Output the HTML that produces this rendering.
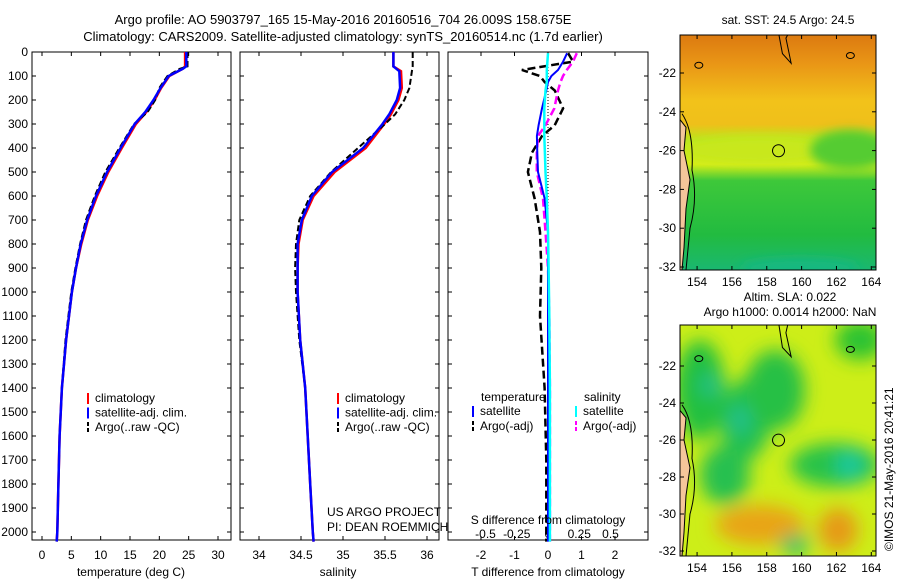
<!DOCTYPE html>
<html><head><meta charset="utf-8"><style>
body{margin:0;background:#fff;}
svg{display:block;font-family:"Liberation Sans",sans-serif;font-size:12px;}
</style></head><body>
<svg id="fig" width="900" height="580" viewBox="0 0 900 580">
<defs>
<filter id="bl" x="-50%" y="-50%" width="200%" height="200%"><feGaussianBlur stdDeviation="9"/></filter>
<filter id="bl2" x="-50%" y="-50%" width="200%" height="200%"><feGaussianBlur stdDeviation="5"/></filter>
<clipPath id="c1"><rect x="680" y="35" width="196" height="235"/></clipPath>
<clipPath id="c2"><rect x="680" y="325" width="196" height="231"/></clipPath>
<linearGradient id="g1" x1="0" y1="0" x2="0" y2="1">
<stop offset="0" stop-color="#dc7a10"/><stop offset="0.12" stop-color="#e99516"/><stop offset="0.28" stop-color="#f2c21a"/>
<stop offset="0.38" stop-color="#efc01a"/><stop offset="0.45" stop-color="#b8e61e"/><stop offset="0.55" stop-color="#d6ee18"/>
<stop offset="0.62" stop-color="#3ec83a"/><stop offset="0.85" stop-color="#22bb40"/><stop offset="1" stop-color="#1ab870"/>
</linearGradient>
</defs>
<text x="343" y="24" text-anchor="middle" font-size="13">Argo profile: AO 5903797_165 15-May-2016 20160516_704 26.009S 158.675E</text>
<text x="343" y="41" text-anchor="middle" font-size="13">Climatology: CARS2009. Satellite-adjusted climatology: synTS_20160514.nc (1.7d earlier)</text>
<g id="plots"></g>
<text x="788" y="24" text-anchor="middle">sat. SST: 24.5 Argo: 24.5</text>
<text x="790" y="301" text-anchor="middle">Altim. SLA: 0.022</text>
<text x="790" y="316" text-anchor="middle">Argo h1000: 0.0014 h2000: NaN</text>
<text transform="translate(893,551) rotate(-90)">©IMOS 21-May-2016 20:41:21</text>
<g clip-path="url(#c1)">
<rect x="680" y="35" width="196" height="235" fill="url(#g1)"/>
<ellipse cx="760" cy="150" rx="80" ry="14" fill="#c8e81c" filter="url(#bl2)"/>
<ellipse cx="850" cy="150" rx="40" ry="20" fill="#55cc30" filter="url(#bl2)"/>
<ellipse cx="800" cy="268" rx="60" ry="10" fill="#18b880" filter="url(#bl2)"/>
</g>
<g clip-path="url(#c2)">
<rect x="680" y="325" width="196" height="231" fill="#cdee18"/>
<g filter="url(#bl)">
<ellipse cx="700" cy="390" rx="25" ry="50" fill="#22c040"/>
<ellipse cx="745" cy="420" rx="25" ry="40" fill="#22c050"/>
<ellipse cx="775" cy="390" rx="30" ry="40" fill="#25c045"/>
<ellipse cx="860" cy="340" rx="25" ry="20" fill="#2ac232"/>
<ellipse cx="835" cy="465" rx="45" ry="22" fill="#25c248"/>
<ellipse cx="850" cy="465" rx="14" ry="14" fill="#18c8a0"/>
<ellipse cx="740" cy="420" rx="10" ry="14" fill="#20c090"/>
<ellipse cx="710" cy="385" rx="10" ry="12" fill="#20c088"/>
<ellipse cx="725" cy="475" rx="25" ry="30" fill="#25c050"/>
<ellipse cx="760" cy="525" rx="45" ry="20" fill="#e9a418"/>
<ellipse cx="838" cy="530" rx="20" ry="22" fill="#e69a16"/>
<ellipse cx="795" cy="545" rx="15" ry="10" fill="#22c070"/>
</g>
</g>
<g id="maps"></g>
</svg>
<script>
// ---- data ----
const depthT=[0,60,70,100,150,200,250,300,400,500,600,700,800,900,1000,1200,1400,1600,1800,2000,2040];
const tempClim=[24.4,24.4,24.0,21.7,20.3,19.2,17.8,16.0,13.6,11.3,9.4,7.8,6.7,5.8,5.1,4.1,3.4,3.0,2.8,2.6,2.5];
const tempSat=[24.6,24.6,24.0,21.6,20.2,19.0,17.6,15.8,13.4,11.1,9.2,7.7,6.6,5.8,5.1,4.1,3.4,3.0,2.8,2.6,2.5];
const tempArgo=[24.8,24.8,23.5,21.4,20.0,19.3,18.0,15.7,13.2,10.8,9.0,7.5,6.5,5.7,5.0,4.0,3.4,3.0,2.8,2.6,2.5];
const depthS=[0,60,80,150,200,260,300,400,500,600,700,800,900,1000,1200,1400,1600,1800,2000,2040];
const salClim=[35.6,35.6,35.69,35.70,35.66,35.57,35.49,35.27,34.90,34.65,34.52,34.47,34.46,34.46,34.49,34.55,34.58,34.61,34.64,34.65];
const salSat=[35.6,35.6,35.67,35.68,35.64,35.55,35.47,35.24,34.87,34.63,34.51,34.46,34.46,34.46,34.49,34.55,34.58,34.61,34.64,34.65];
const salArgo=[35.83,35.83,35.82,35.79,35.73,35.62,35.50,35.18,34.86,34.61,34.48,34.44,34.43,34.44,34.48,34.55,34.58,34.61,34.64,34.65];
const depthD=[5,40,75,100,125,160,235,305,350,420,500,610,750,900,1100,1400,1700,2040];
const tdiffSat=[0.57,0.45,0.3,0.1,0.0,-0.05,-0.18,-0.28,-0.33,-0.32,-0.3,-0.1,0.0,0.0,0.0,0.0,0.0,0.0];
const tdiffArgo=[0.6,0.75,-0.78,-0.24,-0.1,0.2,0.45,0.2,-0.18,-0.48,-0.6,-0.4,-0.24,-0.2,-0.24,-0.1,-0.05,-0.05];
const sdiffSat=[0.0,-0.005,-0.01,-0.01,-0.01,-0.02,-0.03,-0.03,-0.03,-0.025,-0.02,-0.01,0.0,0.005,0.01,0.015,0.015,0.015];
const sdiffArgo=[0.23,0.2,0.15,0.12,0.1,0.08,0.05,-0.02,-0.08,-0.09,-0.09,-0.04,-0.02,0.0,0.01,0.015,0.015,0.015];
const depthTicks=[0,100,200,300,400,500,600,700,800,900,1000,1100,1200,1300,1400,1500,1600,1700,1800,1900,2000];
const tTicks=[0,5,10,15,20,25,30];
const sTicks=[34,34.5,35,35.5,36];
const dTicks=[-2,-1,0,1,2];
const sdTicks=[-0.5,-0.25,0,0.25,0.5];
const lonTicks=[154,156,158,160,162,164];
const latTicks=[-22,-24,-26,-28,-30,-32];

const NS="http://www.w3.org/2000/svg";
const G=document.getElementById('plots');
function mk(t,a,p){const e=document.createElementNS(NS,t);for(const k in a)e.setAttribute(k,a[k]);(p||G).appendChild(e);return e;}
const yD=d=>52+d*0.24;
function lin(d0,d1,p0,p1){return v=>p0+(v-d0)*(p1-p0)/(d1-d0);}
function axesBox(x0,x1,name){const r=mk('rect',{x:x0,y:52,width:x1-x0,height:488,fill:'none',stroke:'#000','stroke-width':1});
 depthTicks.forEach(d=>{mk('line',{x1:x0,x2:x0+4,y1:yD(d),y2:yD(d),stroke:'#000'});mk('line',{x1:x1,x2:x1-4,y1:yD(d),y2:yD(d),stroke:'#000'});});}
function xTicks(x0,x1,ticks,f,fmt){ticks.forEach(v=>{const x=f(v);mk('line',{x1:x,x2:x,y1:52,y2:56,stroke:'#000'});mk('line',{x1:x,x2:x,y1:540,y2:536,stroke:'#000'});const t=mk('text',{x:x,y:559,'text-anchor':'middle'});t.textContent=fmt?fmt(v):v;});}
function line(xs,ds,fx,col,w,dash,name){const pts=xs.map((v,i)=>fx(v).toFixed(1)+','+yD(ds[i]).toFixed(1)).join(' ');const p=mk('polyline',{points:pts,fill:'none',stroke:col,'stroke-width':w});if(dash)p.setAttribute('stroke-dasharray',dash);}
function txt(x,y,s,name,anchor){const t=mk('text',{x:x,y:y});if(anchor)t.setAttribute('text-anchor',anchor);t.textContent=s;return t;}

depthTicks.forEach(d=>{txt(28,yD(d)+4,d,'depth-tick-label','end');});

// panel 1 temperature
const fT=lin(0,30,42,218);
axesBox(32,231,'temperature-axes');xTicks(32,231,tTicks,fT);
line(tempClim,depthT,fT,'#f00',2.5,null,'temp-climatology-line');
line(tempArgo,depthT,fT,'#000',2,'6,3','temp-argo-line');
line(tempSat,depthT,fT,'#00f',2.5,null,'temp-satellite-line');
txt(131,576,'temperature (deg C)','temperature-axis-title','middle');
function legend(x,y){[['#f00',null,'climatology'],['#00f',null,'satellite-adj. clim.'],['#000','4,2','Argo(..raw -QC)']].forEach((l,i)=>{const yy=y+i*14.5;const ln=mk('line',{x1:x,x2:x,y1:yy-9,y2:yy+2,stroke:l[0],'stroke-width':2});if(l[1])ln.setAttribute('stroke-dasharray',l[1]);txt(x+7,yy,l[2],'legend-entry');});}
legend(88,402);

// panel 2 salinity
const fS=lin(34,36,259,427);
axesBox(240,439,'salinity-axes');xTicks(240,439,sTicks,fS);
line(salClim,depthS,fS,'#f00',2.5,null,'sal-climatology-line');
line(salArgo,depthS,fS,'#000',2,'6,3','sal-argo-line');
line(salSat,depthS,fS,'#00f',2.5,null,'sal-satellite-line');
txt(338,576,'salinity','salinity-axis-title','middle');
legend(338,402);
txt(327,516,'US ARGO PROJECT','project-label');
txt(327,531,'PI: DEAN ROEMMICH','pi-label');

// panel 3 differences
const fD=lin(0,1,548,581.5);
const fSD=lin(0,1,548,673);
axesBox(448,648,'difference-axes');xTicks(448,648,dTicks,fD);
mk('line',{x1:548,x2:548,y1:52,y2:540,stroke:'#000','stroke-dasharray':'1,2'});
sdTicks.forEach(v=>{txt(fSD(v),538,String(v),'s-diff-tick-label','middle');});
line(tdiffArgo,depthD,fD,'#000',2.5,'8,4','tdiff-argo-line');
line(sdiffArgo,depthD,fSD,'#f0f',2.5,'8,4','sdiff-argo-line');
line(tdiffSat,depthD,fD,'#00f',2,null,'tdiff-satellite-line');
line(sdiffSat,depthD,fSD,'#0ff',2.5,null,'sdiff-satellite-line');
txt(548,524,'S difference from climatology','s-diff-axis-title','middle');
txt(548,576,'T difference from climatology','t-diff-axis-title','middle');
txt(481,401,'temperature','legend-temperature-header');
txt(584,401,'salinity','legend-salinity-header');
[[473,'#00f',null,'satellite',415],[473,'#000','4,2','Argo(-adj)',430],[576,'#0ff',null,'satellite',415],[576,'#f0f','4,2','Argo(-adj)',430]].forEach(l=>{const ln=mk('line',{x1:l[0],x2:l[0],y1:l[4]-9,y2:l[4]+2,stroke:l[1],'stroke-width':2});if(l[2])ln.setAttribute('stroke-dasharray',l[2]);txt(l[0]+7,l[4],l[3],'legend-entry');});

// maps
const M=document.getElementById('maps');
function map(top,bot,y22,y32,name){
 const fx=lin(153.02,164.27,680,876), fy=lin(-22,-32,y22,y32);
 const land=mk('path',{d:`M680,${fy(-24.4)} L686,${fy(-24.8)} L684,${fy(-26)} L690,${fy(-27.5)} L686,${fy(-29)} L684,${fy(-31)} L682,${bot} L680,${bot} Z`,fill:'#f4c69a',stroke:'#000','stroke-width':1},M);
 
 mk('path',{d:`M682,${fy(-24.1)} Q694,${fy(-25)} 692,${fy(-27)} Q698,${fy(-28.5)} 690,${fy(-30)} L686,${bot}`,fill:'none',stroke:'#000'},M);
 mk('path',{d:`M${fx(158.7)},${top} L${fx(158.9)},${fy(-21)} L${fx(159.4)},${fy(-21.5)} L${fx(159.1)},${fy(-20.2)} L${fx(159.2)},${top}`,fill:'none',stroke:'#000'},M);
 mk('ellipse',{cx:fx(154.1),cy:fy(-21.6),rx:4,ry:3,fill:'none',stroke:'#000'},M);
 mk('ellipse',{cx:fx(162.8),cy:fy(-21.1),rx:4,ry:3,fill:'none',stroke:'#000'},M);
 const c=mk('circle',{cx:fx(158.675),cy:fy(-26.009),r:6,fill:'none',stroke:'#000'},M);
 
 const r=mk('rect',{x:680,y:top,width:196,height:bot-top,fill:'none',stroke:'#000'},M);
 
 lonTicks.forEach(v=>{const x=fx(v);mk('line',{x1:x,x2:x,y1:bot,y2:bot-4,stroke:'#000'},M);mk('line',{x1:x,x2:x,y1:top,y2:top+4,stroke:'#000'},M);const t=mk('text',{x:x,y:bot+16,'text-anchor':'middle'},M);t.textContent=v;});
 latTicks.forEach(v=>{const y=fy(v);mk('line',{x1:680,x2:684,y1:y,y2:y,stroke:'#000'},M);mk('line',{x1:876,x2:872,y1:y,y2:y,stroke:'#000'},M);const t=mk('text',{x:676,y:y+4,'text-anchor':'end'},M);t.textContent=v;});
}
map(35,270,73,267,'sst-map-frame');
map(325,556,366,551,'sla-map-frame');
</script>
</body></html>
